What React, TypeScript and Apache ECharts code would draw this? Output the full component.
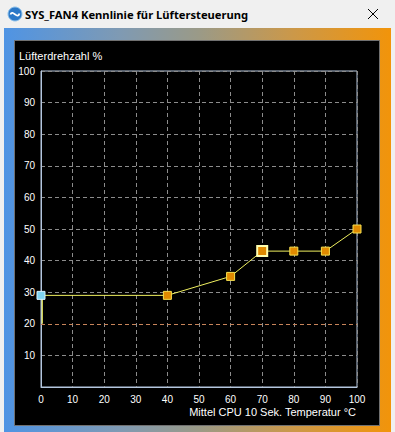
import React, { useEffect, useRef } from "react";
import * as echarts from "echarts";

const title = "SYS_FAN4 Kennlinie für Lüftersteuerung";
const xName = "Mittel CPU 10 Sek. Temperatur °C";
const yName = "Lüfterdrehzahl %";
const temps = [0, 40, 60, 70, 80, 90, 100];
const speeds = [29, 29, 35, 43, 43, 43, 50];
const minTemps = [0.4, 0.4];
const minSpeeds = [29, 20];
const minSpeedLine = 20;
const selectedIndex = 3;

export default function App() {
  const ref = useRef<HTMLDivElement>(null);
  useEffect(() => {
    if (!ref.current) return;
    const chart = echarts.init(ref.current, null, { renderer: "svg" });
    const font = "Liberation Sans, Arial, sans-serif";
    const pointData = temps.map((t, i) => {
      if (i === 0) {
        return {
          value: [t, speeds[i]],
          symbolSize: 8,
          itemStyle: { color: "#7fd4f0", borderColor: "#d8f4ff", borderWidth: 1 },
        };
      }
      if (i === selectedIndex) {
        return {
          value: [t, speeds[i]],
          symbolSize: 10,
          itemStyle: { color: "#e08a00", borderColor: "#ffffb0", borderWidth: 2 },
        };
      }
      return {
        value: [t, speeds[i]],
        symbolSize: 8,
        itemStyle: { color: "#e08a00", borderColor: "#f5e050", borderWidth: 1 },
      };
    });
    chart.setOption({
      animation: false,
      backgroundColor: "#f0f0f0",
      graphic: [
        {
          type: "rect",
          z: -10,
          shape: { x: 4, y: 28, width: 387, height: 404 },
          style: {
            fill: new echarts.graphic.LinearGradient(0, 0, 1, 0, [
              { offset: 0, color: "#4f94e4" },
              { offset: 0.3, color: "#7f9ab3" },
              { offset: 0.5, color: "#9a9a88" },
              { offset: 0.75, color: "#cc9848" },
              { offset: 1, color: "#f2940a" },
            ]),
          },
        },
        {
          type: "rect",
          z: -9,
          shape: { x: 14.5, y: 40.5, width: 365, height: 385 },
          style: { fill: "#000000", stroke: "#707070", lineWidth: 1 },
        },
        {
          type: "circle",
          z: -8,
          shape: { cx: 15, cy: 14, r: 7 },
          style: { fill: "#2a78c8", stroke: "#8cc0ea", lineWidth: 1 },
        },
        {
          type: "bezierCurve",
          z: -7,
          shape: { x1: 10.5, y1: 14.5, cpx1: 12.5, cpy1: 9, cpx2: 17.5, cpy2: 20, x2: 19.5, y2: 13.5 },
          style: { stroke: "#ffffff", lineWidth: 1.8, fill: null },
        },
        {
          type: "text",
          z: -7,
          style: {
            text: title,
            x: 25,
            y: 14,
            fill: "#000000",
            font: "bold 11.2px 'Noto Sans', sans-serif",
            textVerticalAlign: "middle",
          },
        },
        {
          type: "line",
          z: -7,
          shape: { x1: 368, y1: 9, x2: 378, y2: 19 },
          style: { stroke: "#000000", lineWidth: 1 },
        },
        {
          type: "line",
          z: -7,
          shape: { x1: 368, y1: 19, x2: 378, y2: 9 },
          style: { stroke: "#000000", lineWidth: 1 },
        },
        {
          type: "text",
          z: 5,
          style: {
            text: yName,
            x: 19,
            y: 56,
            fill: "#ffffff",
            font: "11px " + font,
            textVerticalAlign: "middle",
          },
        },
        {
          type: "text",
          z: 5,
          style: {
            text: xName,
            x: 356,
            y: 412,
            fill: "#ffffff",
            font: "11px " + font,
            textAlign: "right",
            textVerticalAlign: "middle",
          },
        },
      ],
      grid: {
        left: 41,
        top: 71,
        width: 316,
        height: 316,
        show: true,
        borderColor: "#b4c6de",
        borderWidth: 1,
        backgroundColor: "transparent",
      },
      xAxis: {
        type: "value",
        min: 0,
        max: 100,
        interval: 10,
        axisLine: { show: true, lineStyle: { color: "#b4c6de", width: 1 } },
        axisTick: { show: false },
        axisLabel: { color: "#ffffff", fontSize: 10, fontFamily: font, margin: 7 },
        splitLine: { show: true, lineStyle: { color: "#8c8c8c", type: [4, 3], width: 1 } },
      },
      yAxis: {
        type: "value",
        min: 0,
        max: 100,
        interval: 10,
        axisLine: { show: true, lineStyle: { color: "#b4c6de", width: 1 } },
        axisTick: { show: false },
        axisLabel: {
          color: "#ffffff",
          fontSize: 10,
          fontFamily: font,
          margin: 6,
          showMinLabel: false,
        },
        splitLine: { show: true, lineStyle: { color: "#8c8c8c", type: [4, 3], width: 1 } },
      },
      series: [
        {
          type: "line",
          z: 3,
          data: minTemps.map((t, i) => [t, minSpeeds[i]]),
          symbol: "none",
          lineStyle: { color: "#f0f060", width: 1.2 },
          silent: true,
        },
        {
          type: "line",
          z: 4,
          data: pointData,
          symbol: "rect",
          lineStyle: { color: "#f0f060", width: 1 },
          markLine: {
            silent: true,
            symbol: "none",
            label: { show: false },
            lineStyle: { color: "#c8845a", type: [4, 3], width: 1 },
            data: [{ yAxis: minSpeedLine }],
          },
        },
      ],
    });
    return () => chart.dispose();
  }, []);
  return (
    <div
      ref={ref}
      style={{ position: "fixed", left: 0, top: 0, width: 395, height: 432 }}
    />
  );
}
